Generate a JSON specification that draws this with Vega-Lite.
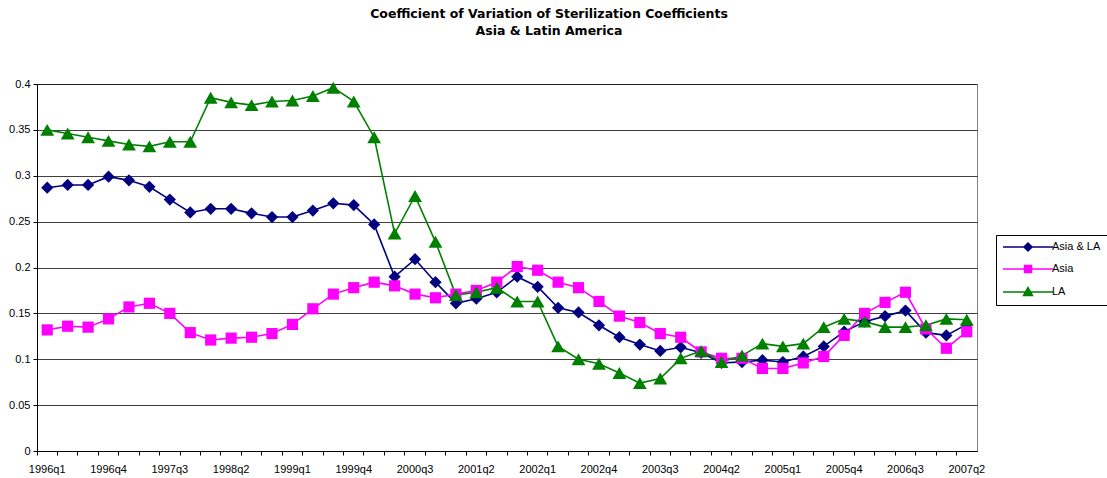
{
  "$schema": "https://vega.github.io/schema/vega-lite/v6.json",
  "autosize": {"type": "none"},
  "padding": {"left": 37, "top": 84, "right": 130, "bottom": 27},
  "width": 940,
  "height": 367,
  "background": "white",
  "title": {
    "text": ["Coefficient of Variation of Sterilization Coefficients", "Asia & Latin America"],
    "font": "DejaVu Sans",
    "fontSize": 12.5,
    "fontWeight": "bold",
    "color": "black",
    "lineHeight": 17,
    "anchor": "middle",
    "dx": 42,
    "offset": 41
  },
  "config": {
    "view": {"stroke": "#808080", "strokeWidth": 1},
    "axis": {"labelFont": "Liberation Sans", "labelFontSize": 11, "labelColor": "black", "domainColor": "black", "tickColor": "black", "tickSize": 4, "title": null}
  },
  "data": {"values": [
    {"q":"1996q1","s":"Asia & LA","v":0.287},{"q":"1996q2","s":"Asia & LA","v":0.290},{"q":"1996q3","s":"Asia & LA","v":0.290},{"q":"1996q4","s":"Asia & LA","v":0.299},
    {"q":"1997q1","s":"Asia & LA","v":0.295},{"q":"1997q2","s":"Asia & LA","v":0.288},{"q":"1997q3","s":"Asia & LA","v":0.274},{"q":"1997q4","s":"Asia & LA","v":0.260},
    {"q":"1998q1","s":"Asia & LA","v":0.264},{"q":"1998q2","s":"Asia & LA","v":0.264},{"q":"1998q3","s":"Asia & LA","v":0.259},{"q":"1998q4","s":"Asia & LA","v":0.255},
    {"q":"1999q1","s":"Asia & LA","v":0.255},{"q":"1999q2","s":"Asia & LA","v":0.262},{"q":"1999q3","s":"Asia & LA","v":0.270},{"q":"1999q4","s":"Asia & LA","v":0.268},
    {"q":"2000q1","s":"Asia & LA","v":0.247},{"q":"2000q2","s":"Asia & LA","v":0.190},{"q":"2000q3","s":"Asia & LA","v":0.209},{"q":"2000q4","s":"Asia & LA","v":0.184},
    {"q":"2001q1","s":"Asia & LA","v":0.161},{"q":"2001q2","s":"Asia & LA","v":0.166},{"q":"2001q3","s":"Asia & LA","v":0.173},{"q":"2001q4","s":"Asia & LA","v":0.190},
    {"q":"2002q1","s":"Asia & LA","v":0.179},{"q":"2002q2","s":"Asia & LA","v":0.156},{"q":"2002q3","s":"Asia & LA","v":0.151},{"q":"2002q4","s":"Asia & LA","v":0.137},
    {"q":"2003q1","s":"Asia & LA","v":0.124},{"q":"2003q2","s":"Asia & LA","v":0.116},{"q":"2003q3","s":"Asia & LA","v":0.109},{"q":"2003q4","s":"Asia & LA","v":0.113},
    {"q":"2004q1","s":"Asia & LA","v":0.107},{"q":"2004q2","s":"Asia & LA","v":0.096},{"q":"2004q3","s":"Asia & LA","v":0.097},{"q":"2004q4","s":"Asia & LA","v":0.099},
    {"q":"2005q1","s":"Asia & LA","v":0.097},{"q":"2005q2","s":"Asia & LA","v":0.103},{"q":"2005q3","s":"Asia & LA","v":0.114},{"q":"2005q4","s":"Asia & LA","v":0.130},
    {"q":"2006q1","s":"Asia & LA","v":0.141},{"q":"2006q2","s":"Asia & LA","v":0.147},{"q":"2006q3","s":"Asia & LA","v":0.153},{"q":"2006q4","s":"Asia & LA","v":0.129},
    {"q":"2007q1","s":"Asia & LA","v":0.126},{"q":"2007q2","s":"Asia & LA","v":0.138},
    {"q":"1996q1","s":"Asia","v":0.132},{"q":"1996q2","s":"Asia","v":0.136},{"q":"1996q3","s":"Asia","v":0.135},{"q":"1996q4","s":"Asia","v":0.144},
    {"q":"1997q1","s":"Asia","v":0.157},{"q":"1997q2","s":"Asia","v":0.161},{"q":"1997q3","s":"Asia","v":0.150},{"q":"1997q4","s":"Asia","v":0.129},
    {"q":"1998q1","s":"Asia","v":0.121},{"q":"1998q2","s":"Asia","v":0.123},{"q":"1998q3","s":"Asia","v":0.124},{"q":"1998q4","s":"Asia","v":0.128},
    {"q":"1999q1","s":"Asia","v":0.138},{"q":"1999q2","s":"Asia","v":0.155},{"q":"1999q3","s":"Asia","v":0.171},{"q":"1999q4","s":"Asia","v":0.178},
    {"q":"2000q1","s":"Asia","v":0.184},{"q":"2000q2","s":"Asia","v":0.180},{"q":"2000q3","s":"Asia","v":0.171},{"q":"2000q4","s":"Asia","v":0.167},
    {"q":"2001q1","s":"Asia","v":0.171},{"q":"2001q2","s":"Asia","v":0.175},{"q":"2001q3","s":"Asia","v":0.184},{"q":"2001q4","s":"Asia","v":0.201},
    {"q":"2002q1","s":"Asia","v":0.197},{"q":"2002q2","s":"Asia","v":0.184},{"q":"2002q3","s":"Asia","v":0.178},{"q":"2002q4","s":"Asia","v":0.163},
    {"q":"2003q1","s":"Asia","v":0.147},{"q":"2003q2","s":"Asia","v":0.140},{"q":"2003q3","s":"Asia","v":0.128},{"q":"2003q4","s":"Asia","v":0.124},
    {"q":"2004q1","s":"Asia","v":0.108},{"q":"2004q2","s":"Asia","v":0.101},{"q":"2004q3","s":"Asia","v":0.101},{"q":"2004q4","s":"Asia","v":0.090},
    {"q":"2005q1","s":"Asia","v":0.090},{"q":"2005q2","s":"Asia","v":0.096},{"q":"2005q3","s":"Asia","v":0.103},{"q":"2005q4","s":"Asia","v":0.126},
    {"q":"2006q1","s":"Asia","v":0.150},{"q":"2006q2","s":"Asia","v":0.162},{"q":"2006q3","s":"Asia","v":0.173},{"q":"2006q4","s":"Asia","v":0.133},
    {"q":"2007q1","s":"Asia","v":0.112},{"q":"2007q2","s":"Asia","v":0.130},
    {"q":"1996q1","s":"LA","v":0.350},{"q":"1996q2","s":"LA","v":0.346},{"q":"1996q3","s":"LA","v":0.342},{"q":"1996q4","s":"LA","v":0.338},
    {"q":"1997q1","s":"LA","v":0.334},{"q":"1997q2","s":"LA","v":0.332},{"q":"1997q3","s":"LA","v":0.337},{"q":"1997q4","s":"LA","v":0.337},
    {"q":"1998q1","s":"LA","v":0.385},{"q":"1998q2","s":"LA","v":0.380},{"q":"1998q3","s":"LA","v":0.377},{"q":"1998q4","s":"LA","v":0.381},
    {"q":"1999q1","s":"LA","v":0.382},{"q":"1999q2","s":"LA","v":0.387},{"q":"1999q3","s":"LA","v":0.396},{"q":"1999q4","s":"LA","v":0.381},
    {"q":"2000q1","s":"LA","v":0.342},{"q":"2000q2","s":"LA","v":0.237},{"q":"2000q3","s":"LA","v":0.278},{"q":"2000q4","s":"LA","v":0.228},
    {"q":"2001q1","s":"LA","v":0.170},{"q":"2001q2","s":"LA","v":0.173},{"q":"2001q3","s":"LA","v":0.178},{"q":"2001q4","s":"LA","v":0.163},
    {"q":"2002q1","s":"LA","v":0.163},{"q":"2002q2","s":"LA","v":0.114},{"q":"2002q3","s":"LA","v":0.100},{"q":"2002q4","s":"LA","v":0.095},
    {"q":"2003q1","s":"LA","v":0.085},{"q":"2003q2","s":"LA","v":0.074},{"q":"2003q3","s":"LA","v":0.079},{"q":"2003q4","s":"LA","v":0.101},
    {"q":"2004q1","s":"LA","v":0.109},{"q":"2004q2","s":"LA","v":0.097},{"q":"2004q3","s":"LA","v":0.104},{"q":"2004q4","s":"LA","v":0.117},
    {"q":"2005q1","s":"LA","v":0.114},{"q":"2005q2","s":"LA","v":0.117},{"q":"2005q3","s":"LA","v":0.135},{"q":"2005q4","s":"LA","v":0.144},
    {"q":"2006q1","s":"LA","v":0.141},{"q":"2006q2","s":"LA","v":0.135},{"q":"2006q3","s":"LA","v":0.135},{"q":"2006q4","s":"LA","v":0.137},
    {"q":"2007q1","s":"LA","v":0.144},{"q":"2007q2","s":"LA","v":0.143}
  ]},
  "encoding": {
    "x": {"field": "q", "type": "ordinal", "sort": null,
      "scale": {"type": "band", "paddingInner": 0, "paddingOuter": 0},
      "axis": {"labelAngle": 0, "bandPosition": 0, "labelOverlap": false, "labelBound": false, "grid": false, "labelPadding": 8,
        "labelExpr": "indexof(['1996q1','1996q4','1997q3','1998q2','1999q1','1999q4','2000q3','2001q2','2002q1','2002q4','2003q3','2004q2','2005q1','2005q4','2006q3','2007q2'], datum.value) >= 0 ? datum.value : ''"}},
    "y": {"field": "v", "type": "quantitative",
      "scale": {"domain": [0, 0.4], "nice": false, "zero": true},
      "axis": {"values": [0, 0.05, 0.1, 0.15, 0.2, 0.25, 0.3, 0.35, 0.4], "format": "~g", "grid": true, "gridColor": "#000000", "gridOpacity": 0.75, "labelPadding": 3}},
    "color": {"field": "s", "type": "nominal", "sort": null,
      "scale": {"domain": ["Asia & LA", "Asia", "LA"], "range": ["#000080", "#FF00FF", "#008000"]},
      "legend": {"title": null, "orient": "none", "legendX": 959, "legendY": 151, "direction": "vertical",
        "padding": 6, "strokeColor": "black", "fillColor": "white",
        "labelFont": "Liberation Sans", "labelFontSize": 11, "labelColor": "black",
        "symbolSize": 100, "symbolOffset": 20, "labelOffset": 18, "rowPadding": 8,
        "encode": {"symbols": {"update": {
          "shape": {"signal": "datum.value === 'Asia & LA' ? 'M-5,0H5M0,-0.8L0.8,0L0,0.8L-0.8,0Z' : datum.value === 'Asia' ? 'M-5,0H5M-0.7,-0.7H0.7V0.7H-0.7Z' : 'M-5,0H5M0,-0.9L0.9,0.7H-0.9Z'"},
          "fill": {"signal": "scale('color', datum.value)"},
          "stroke": {"signal": "scale('color', datum.value)"},
          "strokeWidth": {"value": 1.5},
          "size": {"value": 100},
          "opacity": {"value": 1}
        }}}}}
  },
  "layer": [
    {"mark": {"type": "line", "strokeWidth": 1.6},
     "encoding": {"detail": {"field": "s"}}},
    {"transform": [{"filter": "datum.s === 'Asia & LA'"}],
     "mark": {"type": "point", "shape": "diamond", "size": 150, "filled": true, "opacity": 1}},
    {"transform": [{"filter": "datum.s === 'Asia'"}],
     "mark": {"type": "point", "shape": "square", "size": 125, "filled": true, "opacity": 1}},
    {"transform": [{"filter": "datum.s === 'LA'"}],
     "mark": {"type": "point", "shape": "triangle-up", "size": 190, "filled": true, "opacity": 1}}
  ]
}
